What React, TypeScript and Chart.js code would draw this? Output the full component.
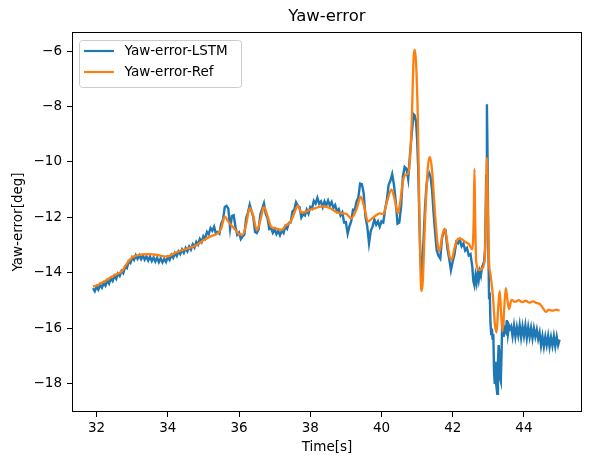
import React, { useEffect, useRef } from 'react';
import { Chart, registerables } from 'chart.js';

Chart.register(...registerables);

const TITLE = 'Yaw-error';
const X_LABEL = 'Time[s]';
const Y_LABEL = 'Yaw-error[deg]';
const SERIES_NAMES = ['Yaw-error-LSTM', 'Yaw-error-Ref'];
const X_TICKS = [32, 34, 36, 38, 40, 42, 44];
const Y_TICKS = [-18, -16, -14, -12, -10, -8, -6];
const X_RANGE = [31.31, 45.63];
const Y_RANGE = [-19.01, -5.315];

// Reference series [time s, yaw error deg]
const refSeries: [number, number][] = [
  [31.90, -14.48], [32.00, -14.45], [32.20, -14.32], [32.40, -14.15], [32.60, -14.02], [32.70, -13.95],
  [32.80, -13.76], [32.90, -13.58], [33.00, -13.44], [33.10, -13.38], [33.30, -13.33], [33.50, -13.32],
  [33.70, -13.35], [33.90, -13.40], [34.00, -13.40], [34.20, -13.28], [34.40, -13.18], [34.60, -13.10],
  [34.80, -13.00], [35.00, -12.82], [35.20, -12.68], [35.40, -12.57], [35.50, -12.40], [35.60, -11.97],
  [35.70, -12.15], [35.80, -12.30], [35.90, -12.45], [36.00, -12.60], [36.10, -12.62], [36.20, -12.25],
  [36.30, -11.65], [36.40, -11.95], [36.50, -12.45], [36.60, -12.10], [36.70, -11.62], [36.80, -11.95],
  [36.90, -12.33], [37.00, -12.38], [37.20, -12.45], [37.30, -12.30], [37.45, -12.15], [37.55, -11.85],
  [37.65, -11.58], [37.75, -11.82], [37.85, -11.80], [38.00, -11.72], [38.15, -11.66], [38.35, -11.60],
  [38.55, -11.66], [38.70, -11.78], [38.85, -11.85], [39.00, -11.86], [39.15, -12.03], [39.30, -11.70],
  [39.42, -11.25], [39.52, -11.65], [39.62, -12.15], [39.72, -12.05], [39.82, -11.95], [39.95, -11.85],
  [40.05, -11.88], [40.15, -11.45], [40.28, -11.00], [40.38, -11.40], [40.46, -11.85], [40.53, -11.40],
  [40.60, -10.70], [40.68, -10.45], [40.75, -10.40], [40.80, -9.90], [40.85, -8.50], [40.90, -6.30],
  [40.93, -5.95], [40.97, -6.40], [41.02, -8.40], [41.06, -11.50], [41.10, -14.20], [41.13, -14.65],
  [41.16, -14.30], [41.22, -12.20], [41.30, -10.20], [41.36, -9.82], [41.42, -10.30], [41.50, -11.80],
  [41.58, -13.00], [41.63, -13.22], [41.70, -12.70], [41.77, -12.40], [41.85, -12.90], [41.92, -13.45],
  [41.97, -13.52], [42.05, -13.10], [42.15, -12.76], [42.25, -12.78], [42.35, -12.88], [42.45, -12.95],
  [42.55, -13.15], [42.59, -12.00], [42.61, -10.25], [42.63, -12.00], [42.66, -13.60], [42.75, -13.90],
  [42.82, -13.85], [42.90, -13.50], [42.93, -12.00], [42.96, -9.85], [42.99, -12.00], [43.02, -13.60],
  [43.06, -14.05], [43.13, -14.85], [43.18, -15.80], [43.23, -16.15], [43.28, -15.20], [43.32, -14.65],
  [43.36, -15.50], [43.40, -16.10], [43.45, -15.20], [43.49, -14.55], [43.54, -15.00], [43.58, -15.30],
  [43.65, -14.97], [43.75, -15.04], [43.85, -14.98], [43.95, -15.05], [44.05, -15.00], [44.15, -15.07],
  [44.25, -15.02], [44.35, -15.08], [44.45, -15.12], [44.55, -15.30], [44.62, -15.40], [44.70, -15.32],
  [44.80, -15.36], [44.90, -15.32], [45.00, -15.36],
];

// LSTM series, early ramp
const lstmRamp: [number, number][] = [
  [31.90, -14.55], [31.95, -14.66], [32.00, -14.49], [32.05, -14.60], [32.10, -14.42], [32.15, -14.53],
  [32.20, -14.36], [32.25, -14.46], [32.30, -14.27], [32.35, -14.38], [32.40, -14.19], [32.45, -14.29],
  [32.50, -14.10], [32.55, -14.21], [32.60, -14.02], [32.65, -14.11], [32.70, -13.93], [32.75, -14.01],
  [32.80, -13.78], [32.85, -13.83], [32.90, -13.58], [32.95, -13.64], [33.00, -13.44], [33.05, -13.53],
  [33.10, -13.36], [33.15, -13.49], [33.20, -13.36], [33.25, -13.50], [33.30, -13.37], [33.35, -13.52],
  [33.40, -13.40], [33.45, -13.55], [33.50, -13.41], [33.55, -13.57], [33.60, -13.44], [33.65, -13.59],
  [33.70, -13.45], [33.75, -13.61], [33.80, -13.47], [33.85, -13.62], [33.90, -13.49], [33.95, -13.60],
  [34.00, -13.43], [34.05, -13.53], [34.10, -13.35], [34.15, -13.45], [34.20, -13.28], [34.25, -13.39],
  [34.30, -13.22], [34.35, -13.32], [34.40, -13.15], [34.45, -13.27], [34.50, -13.10], [34.55, -13.22],
  [34.60, -13.05], [34.65, -13.16], [34.70, -12.97], [34.75, -13.08], [34.80, -12.88], [34.85, -12.98],
  [34.90, -12.77], [34.95, -12.88], [35.00, -12.67], [35.05, -12.76], [35.10, -12.52], [35.15, -12.60],
  [35.20, -12.38], [35.25, -12.48], [35.30, -12.33], [35.35, -12.58], [35.40, -12.52], [35.45, -12.58],
  [35.50, -12.22],
];

// LSTM series, oscillating middle part
const lstmWaves: [number, number][] = [
  [35.55, -12.08], [35.60, -11.62], [35.65, -11.58], [35.70, -11.68], [35.75, -12.40], [35.80, -11.95],
  [35.85, -11.92], [35.90, -12.34], [35.95, -12.62], [36.00, -12.54], [36.05, -12.78], [36.10, -12.68],
  [36.15, -12.62], [36.20, -12.03], [36.25, -11.82], [36.30, -11.54], [36.35, -11.77], [36.40, -11.98],
  [36.45, -12.52], [36.50, -12.56], [36.55, -12.42], [36.60, -11.88], [36.65, -11.69], [36.70, -11.49],
  [36.75, -11.87], [36.80, -12.03], [36.85, -12.42], [36.90, -12.38], [36.95, -12.55], [37.00, -12.43],
  [37.05, -12.60], [37.10, -12.48], [37.15, -12.64], [37.20, -12.48], [37.25, -12.56], [37.30, -12.32],
  [37.35, -12.41], [37.40, -12.19], [37.45, -12.18], [37.50, -11.78], [37.55, -11.73], [37.60, -11.45],
  [37.65, -11.58], [37.70, -11.63], [37.75, -12.00], [37.80, -11.88], [37.85, -11.93], [37.90, -11.72],
  [37.95, -11.86], [38.00, -11.62], [38.05, -11.68], [38.10, -11.40], [38.15, -11.50], [38.20, -11.29],
  [38.25, -11.50], [38.30, -11.42], [38.35, -11.63], [38.40, -11.42], [38.45, -11.56], [38.50, -11.39],
  [38.55, -11.57], [38.60, -11.44], [38.65, -11.66], [38.70, -11.55], [38.75, -11.78], [38.80, -11.70],
  [38.85, -11.93], [38.90, -11.82], [38.95, -12.18], [39.00, -12.17], [39.05, -12.58], [39.10, -12.32],
  [39.15, -12.13], [39.20, -11.72], [39.25, -11.73], [39.30, -11.42], [39.35, -11.28], [39.40, -10.78],
  [39.45, -10.80], [39.50, -11.12], [39.55, -11.98], [39.60, -12.32], [39.65, -12.93], [39.70, -12.47],
  [39.75, -12.33], [39.80, -12.07], [39.85, -12.26], [39.90, -12.14], [39.95, -12.33], [40.00, -12.14],
  [40.05, -12.18], [40.10, -11.72], [40.15, -11.38], [40.20, -10.82], [40.25, -10.68], [40.30, -10.44],
  [40.35, -10.82], [40.40, -11.43], [40.45, -12.22], [40.50, -12.18], [40.55, -11.62], [40.60, -10.53],
  [40.65, -10.18], [40.70, -10.24], [40.75, -10.62], [40.80, -9.74], [40.85, -8.97], [40.90, -8.28],
  [40.93, -8.32], [40.97, -8.54], [41.00, -9.16],
];

// LSTM series, large swings and spikes
const lstmSpikes: [number, number][] = [
  [41.03, -10.20], [41.06, -11.90], [41.09, -13.40], [41.12, -13.95], [41.15, -13.70], [41.18, -12.80],
  [41.22, -11.70], [41.26, -10.90], [41.30, -10.50], [41.34, -10.40], [41.38, -10.55], [41.42, -11.00],
  [41.46, -11.80], [41.50, -12.45], [41.55, -13.18], [41.60, -13.38], [41.65, -13.48], [41.70, -12.74],
  [41.75, -12.52], [41.80, -12.48], [41.85, -13.12], [41.90, -13.48], [41.95, -13.90], [42.00, -13.58],
  [42.05, -13.33], [42.10, -12.88], [42.15, -12.93], [42.20, -12.80], [42.25, -13.04], [42.30, -12.94],
  [42.35, -13.19], [42.40, -13.10], [42.45, -13.37], [42.50, -13.32], [42.55, -13.78], [42.58, -14.30],
  [42.61, -14.45], [42.64, -14.10], [42.67, -14.35], [42.70, -14.00], [42.73, -14.25], [42.76, -13.95],
  [42.79, -14.10], [42.82, -13.80], [42.85, -13.70], [42.88, -13.60], [42.91, -13.10], [42.94, -10.50],
  [42.96, -7.92], [42.98, -10.00], [43.00, -13.00], [43.02, -14.90], [43.04, -14.70], [43.06, -15.80],
  [43.08, -16.20], [43.10, -16.00], [43.12, -16.40], [43.14, -16.20], [43.16, -17.50], [43.18, -18.00],
  [43.20, -17.20], [43.22, -18.00], [43.25, -18.35], [43.27, -17.20], [43.29, -16.60], [43.31, -16.90],
  [43.33, -17.80], [43.35, -17.90], [43.37, -17.00], [43.39, -15.70], [43.41, -15.60], [43.43, -16.30],
  [43.46, -16.00], [43.49, -16.10], [43.52, -15.70], [43.55, -16.20], [43.58, -15.90], [43.61, -16.00],
];

// LSTM series, settled tail
const lstmTail: [number, number][] = [
  [43.64, -15.92], [43.68, -16.28], [43.72, -15.90], [43.76, -16.30], [43.80, -15.95], [43.84, -16.25],
  [43.88, -15.88], [43.92, -16.32], [43.96, -15.93], [44.00, -16.27], [44.04, -15.90], [44.08, -16.34],
  [44.12, -15.95], [44.16, -16.30], [44.20, -15.98], [44.24, -16.35], [44.28, -16.00], [44.32, -16.30],
  [44.36, -16.05], [44.40, -16.38], [44.44, -16.15], [44.48, -16.62], [44.52, -16.28], [44.56, -16.65],
  [44.60, -16.30], [44.64, -16.60], [44.68, -16.27], [44.72, -16.66], [44.76, -16.32], [44.80, -16.62],
  [44.84, -16.28], [44.88, -16.64], [44.92, -16.30], [44.96, -16.60], [45.00, -16.40],
];

const BLUE = '#1f77b4';
const ORANGE = '#ff7f0e';
const FONT = 'DejaVu Sans';

const fmt = (v: number) => (v < 0 ? '\u2212' + Math.abs(v) : String(v));
const toXY = (arr: [number, number][]) => arr.map(([x, y]) => ({ x, y }));

const framePlugin = {
  id: 'frame',
  afterDraw(chart: any) {
    const { ctx, chartArea } = chart;
    ctx.save();
    ctx.strokeStyle = '#000';
    ctx.lineWidth = 1;
    ctx.strokeRect(
      Math.round(chartArea.left) + 0.5,
      Math.round(chartArea.top) + 0.5,
      Math.round(chartArea.right - chartArea.left) - 1,
      Math.round(chartArea.bottom - chartArea.top) - 1
    );
    ctx.restore();
  },
};

const legendPlugin = {
  id: 'mplLegend',
  afterDraw(chart: any) {
    const { ctx, chartArea } = chart;
    const x = chartArea.left + 7.5;
    const y = chartArea.top + 8.5;
    const w = 162;
    const h = 47;
    ctx.save();
    ctx.beginPath();
    const r = 3;
    ctx.moveTo(x + r, y);
    ctx.lineTo(x + w - r, y);
    ctx.arcTo(x + w, y, x + w, y + r, r);
    ctx.lineTo(x + w, y + h - r);
    ctx.arcTo(x + w, y + h, x + w - r, y + h, r);
    ctx.lineTo(x + r, y + h);
    ctx.arcTo(x, y + h, x, y + h - r, r);
    ctx.lineTo(x, y + r);
    ctx.arcTo(x, y, x + r, y, r);
    ctx.closePath();
    ctx.fillStyle = 'rgba(255,255,255,0.8)';
    ctx.fill();
    ctx.strokeStyle = '#cccccc';
    ctx.lineWidth = 1;
    ctx.stroke();
    const colors = [BLUE, ORANGE];
    ctx.font = `13.5px "${FONT}"`;
    ctx.textBaseline = 'middle';
    ctx.textAlign = 'left';
    SERIES_NAMES.forEach((name, i) => {
      const ly = y + 10.5 + i * 21;
      ctx.strokeStyle = colors[i];
      ctx.lineWidth = 2.2;
      ctx.beginPath();
      ctx.moveTo(x + 4.5, ly);
      ctx.lineTo(x + 34.5, ly);
      ctx.stroke();
      ctx.fillStyle = '#000';
      ctx.fillText(name, x + 45, ly + 0.5);
    });
    ctx.restore();
  },
};

export default function App() {
  const ref = useRef<HTMLCanvasElement>(null);
  useEffect(() => {
    document.body.style.margin = '0';
    const chart = new Chart(ref.current as HTMLCanvasElement, {
      type: 'line',
      data: {
        datasets: [
          {
            label: SERIES_NAMES[0],
            data: toXY([...lstmRamp, ...lstmWaves, ...lstmSpikes, ...lstmTail]),
            borderColor: BLUE,
            borderWidth: 2.4,
            pointRadius: 0,
            tension: 0,
            order: 1,
          },
          {
            label: SERIES_NAMES[1],
            data: toXY(refSeries),
            borderColor: ORANGE,
            borderWidth: 2.3,
            pointRadius: 0,
            cubicInterpolationMode: 'monotone',
            order: 0,
          },
        ],
      } as any,
      options: {
        responsive: false,
        animation: false,
        devicePixelRatio: 1,
        events: [],
        layout: { padding: { left: 0, right: 8, top: 0, bottom: 0 } },
        plugins: {
          legend: { display: false },
          tooltip: { enabled: false },
          title: {
            display: true,
            text: TITLE,
            color: '#000',
            font: { family: FONT, size: 16.5, weight: 'normal' },
            padding: { top: 7, bottom: 5.2 },
            fullSize: false,
          },
        },
        scales: {
          x: {
            type: 'linear',
            min: X_RANGE[0],
            max: X_RANGE[1],
            afterBuildTicks: (s: any) => {
              s.ticks = X_TICKS.map((v) => ({ value: v }));
            },
            afterFit: (s: any) => {
              s.height = 45;
            },
            grid: { drawOnChartArea: false, drawTicks: true, tickLength: 5, tickColor: '#000', tickWidth: 1 },
            border: { display: false },
            ticks: {
              color: '#000',
              font: { family: FONT, size: 13.5 },
              padding: 3,
              maxRotation: 0,
              autoSkip: false,
              callback: (v: any) => fmt(Number(v)),
            },
            title: {
              display: true,
              text: X_LABEL,
              color: '#000',
              font: { family: FONT, size: 13.5 },
              padding: { top: 0, bottom: 1 },
            },
          },
          y: {
            type: 'linear',
            min: Y_RANGE[0],
            max: Y_RANGE[1],
            afterBuildTicks: (s: any) => {
              s.ticks = Y_TICKS.map((v) => ({ value: v }));
            },
            afterFit: (s: any) => {
              s.width = 72;
            },
            grid: { drawOnChartArea: false, drawTicks: true, tickLength: 5, tickColor: '#000', tickWidth: 1 },
            border: { display: false },
            ticks: {
              color: '#000',
              font: { family: FONT, size: 13.5 },
              padding: 5,
              autoSkip: false,
              callback: (v: any) => fmt(Number(v)),
            },
            title: {
              display: true,
              text: Y_LABEL,
              color: '#000',
              font: { family: FONT, size: 13.5 },
              padding: { top: 10, bottom: 0 },
            },
          },
        },
      } as any,
      plugins: [framePlugin, legendPlugin],
    });
    return () => chart.destroy();
  }, []);
  return (
    <div style={{ position: 'fixed', left: 0, top: 0, width: 590, height: 457, background: '#fff' }}>
      <canvas ref={ref} width={590} height={457} style={{ display: 'block' }} />
    </div>
  );
}
